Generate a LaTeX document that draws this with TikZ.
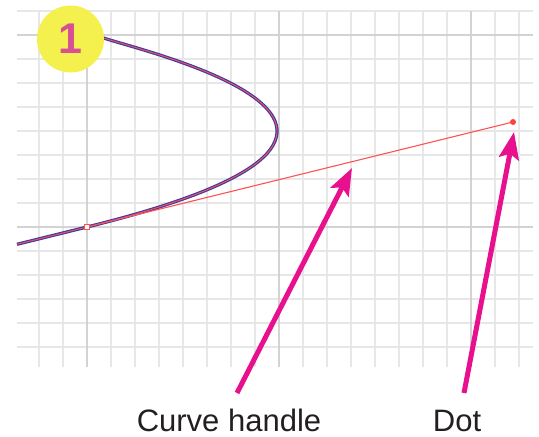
\documentclass[tikz,border=0pt]{standalone}
\usepackage{fontspec}
\setmainfont{Liberation Sans}
\usetikzlibrary{arrows.meta}
\definecolor{gridminor}{HTML}{E7E7E7}
\definecolor{gridmajor}{HTML}{D3D3D3}
\definecolor{curveblue}{HTML}{3B3BA8}
\definecolor{handlered}{HTML}{FF5252}
\definecolor{dotred}{HTML}{FF4040}
\definecolor{yellowc}{HTML}{F4F04E}
\definecolor{pinknum}{HTML}{D94F97}
\definecolor{arrowpink}{HTML}{E8108C}
\definecolor{textgray}{HTML}{231F20}
\tikzset{
  minorline/.style={gridminor, line width=1.6pt},
  majorline/.style={gridmajor, line width=1.6pt},
  pointer/.style={arrowpink, line width=5pt, -{Stealth[length=27pt,width=20pt,inset=5pt]}},
  label/.style={anchor=base, text=textgray, font=\fontsize{31}{31}\selectfont, inner sep=0pt}
}
\begin{document}
\begin{tikzpicture}[x=1pt,y=-1pt]
\useasboundingbox (0,0) rectangle (539,437);
% grid
\foreach \k in {0,...,14} {\draw[minorline] (17,{11+24*\k}) -- (533,{11+24*\k});}
\foreach \k in {0,...,20} {\draw[minorline] ({39+24*\k},11) -- ({39+24*\k},367);}
\foreach \yy in {35,227} {\draw[majorline] (17,\yy) -- (533,\yy);}
\foreach \xx in {87,279,471} {\draw[majorline] (\xx,11) -- (\xx,367);}
% points
\coordinate (start) at (17,244.3);
\coordinate (anc) at (87,227);
\coordinate (ctl) at (88,40);
\coordinate (endp) at (100,36);
\coordinate (dotc) at (513,122);
% curve
\draw[curveblue, line width=3.2pt] (start) -- (anc) .. controls (dotc) and (ctl) .. (endp);
\draw[handlered, line width=0.9pt] (start) -- (anc) .. controls (dotc) and (ctl) .. (endp);
% handle
\draw[handlered, line width=1.1pt] (anc) -- (dotc);
\node[draw=handlered, fill=white, minimum size=5pt, inner sep=0pt, line width=1pt] (anchor) at (anc) {};
\node[circle, fill=dotred, minimum size=6pt, inner sep=0pt] (dot) at (dotc) {};
% number badge
\node[circle, fill=yellowc, minimum size=67pt, inner sep=0pt, text=pinknum, font=\fontsize{43}{43}\selectfont\bfseries] (badge) at (70.5,39) {1};
% labels
\node[label] (lblA) at (229,431.5) {Curve handle};
\node[label] (lblB) at (457,431.5) {Dot};
% arrows
\coordinate (tailA) at (237,393);
\coordinate (tipA) at (352,168);
\coordinate (tailB) at (464,393);
\coordinate (tipB) at (514,132);
\draw[pointer] (tailA) -- (tipA);
\draw[pointer] (tailB) -- (tipB);
\end{tikzpicture}
\end{document}
